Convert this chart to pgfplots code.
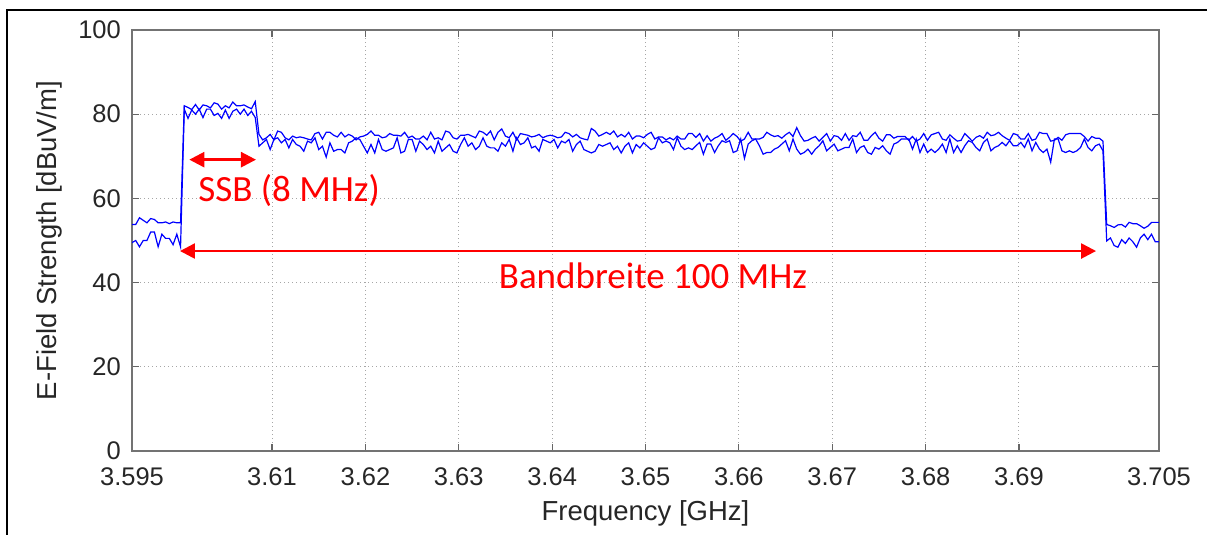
\documentclass[border=0pt]{standalone}
\usepackage{fontspec}
\setmainfont{Liberation Sans}
\newfontfamily\annofont{Carlito}
\usepackage{pgfplots}
\pgfplotsset{compat=1.18}
\usepackage{pgfplotstable}
\usetikzlibrary{arrows.meta}

\definecolor{trace}{RGB}{0,0,255}
\definecolor{anno}{RGB}{255,0,0}
\definecolor{axisgray}{RGB}{115,115,115}
\definecolor{labelgray}{RGB}{38,38,38}

% Spectrum: max-hold trace and clear/write trace (dBuV/m) over frequency (GHz)
\pgfplotstableread{
f maxhold clrwrite
3.5950 53.8 49.5
3.5954 53.8 50.0
3.5958 55.4 48.5
3.5962 54.8 50.0
3.5966 54.2 50.0
3.5970 55.2 52.0
3.5974 55.0 52.0
3.5978 54.2 48.5
3.5982 54.2 51.5
3.5986 54.4 50.5
3.5990 54.0 50.5
3.5994 54.4 49.0
3.5998 54.2 51.5
3.6002 54.2 48.5
3.6006 82.0 81.2
3.6010 81.6 79.0
3.6014 81.1 81.0
3.6018 82.3 80.0
3.6022 81.0 81.2
3.6026 82.2 79.2
3.6030 82.0 81.2
3.6034 81.5 81.2
3.6038 82.7 79.7
3.6042 82.4 80.2
3.6046 81.2 79.0
3.6050 82.0 81.0
3.6054 81.5 79.0
3.6058 82.9 80.7
3.6062 82.0 81.2
3.6066 82.0 80.0
3.6070 82.2 81.2
3.6074 81.7 79.7
3.6078 81.3 80.7
3.6082 83.0 79.2
3.6086 75.2 72.4
3.6090 73.9 73.2
3.6094 74.4 74.0
3.6098 75.2 71.6
3.6102 73.9 74.0
3.6106 76.0 74.4
3.6110 75.7 73.2
3.6114 74.4 74.0
3.6118 73.9 72.0
3.6122 74.8 74.0
3.6126 74.4 72.8
3.6130 74.6 72.4
3.6134 74.4 71.2
3.6138 74.1 73.6
3.6142 73.9 73.2
3.6146 75.4 74.4
3.6150 75.7 71.6
3.6154 74.1 72.4
3.6158 75.7 69.8
3.6162 75.7 73.2
3.6166 75.0 71.2
3.6170 74.6 71.6
3.6174 75.7 71.6
3.6178 74.6 70.8
3.6182 75.2 73.2
3.6186 74.8 73.6
3.6190 73.9 74.4
3.6194 74.6 74.0
3.6198 74.8 72.4
3.6202 75.2 70.8
3.6206 76.0 72.8
3.6210 75.0 70.8
3.6214 75.0 74.0
3.6218 74.4 71.6
3.6222 74.6 71.2
3.6226 75.4 71.6
3.6230 75.0 72.0
3.6234 75.0 74.4
3.6238 74.8 70.8
3.6242 75.7 71.2
3.6246 74.4 74.0
3.6250 74.8 74.0
3.6254 74.1 71.2
3.6258 74.1 73.6
3.6262 74.8 72.8
3.6266 73.9 71.6
3.6270 75.7 72.4
3.6274 74.1 70.8
3.6278 74.4 73.6
3.6282 73.9 71.2
3.6286 76.0 72.0
3.6290 75.7 72.8
3.6294 74.4 71.2
3.6298 74.1 70.8
3.6302 75.0 72.8
3.6306 75.0 74.4
3.6310 75.2 72.4
3.6314 74.8 73.2
3.6318 74.4 71.6
3.6322 76.0 72.4
3.6326 75.7 74.4
3.6330 75.0 72.4
3.6334 76.0 72.0
3.6338 73.9 72.0
3.6342 75.7 71.2
3.6346 76.5 73.2
3.6350 74.8 72.4
3.6354 74.4 74.0
3.6358 75.7 71.2
3.6362 73.9 74.4
3.6366 75.4 72.8
3.6370 75.2 73.2
3.6374 75.0 74.4
3.6378 74.6 72.0
3.6382 74.8 72.4
3.6386 75.2 71.2
3.6390 74.4 74.0
3.6394 74.8 73.6
3.6398 75.0 73.2
3.6402 74.8 74.0
3.6406 74.4 72.0
3.6410 74.6 73.6
3.6414 75.7 73.2
3.6418 75.4 74.0
3.6422 74.6 71.2
3.6426 75.2 72.8
3.6430 74.4 73.6
3.6434 74.1 71.6
3.6438 73.9 71.2
3.6442 76.6 70.8
3.6446 76.0 71.2
3.6450 74.8 72.8
3.6454 75.2 72.4
3.6458 75.7 72.8
3.6462 75.2 73.2
3.6466 76.0 71.6
3.6470 74.6 72.4
3.6474 75.2 70.8
3.6478 74.6 72.4
3.6482 75.7 73.2
3.6486 74.1 70.8
3.6490 74.8 72.8
3.6494 74.8 72.0
3.6498 74.4 73.2
3.6502 75.2 72.4
3.6506 75.7 71.6
3.6510 74.1 72.0
3.6514 74.6 74.4
3.6518 74.6 73.2
3.6522 73.9 73.6
3.6526 74.4 73.2
3.6530 73.9 71.6
3.6534 74.8 74.4
3.6538 74.1 72.4
3.6542 74.1 71.6
3.6546 75.4 72.0
3.6550 75.4 71.6
3.6554 74.5 72.5
3.6558 75.4 73.3
3.6562 73.6 70.5
3.6566 74.9 72.9
3.6570 73.6 72.9
3.6574 74.3 70.9
3.6578 74.7 72.5
3.6582 75.4 73.7
3.6586 73.8 73.3
3.6590 74.5 73.7
3.6594 75.4 70.9
3.6598 74.7 71.3
3.6602 73.6 74.1
3.6606 74.1 69.5
3.6610 75.7 72.9
3.6614 74.1 73.7
3.6618 74.1 74.1
3.6622 74.1 72.5
3.6626 74.5 70.5
3.6630 75.7 70.9
3.6634 75.1 70.9
3.6638 74.7 71.7
3.6642 74.9 72.1
3.6646 74.3 72.9
3.6650 75.1 73.7
3.6654 75.7 71.3
3.6658 74.7 74.1
3.6662 76.8 71.7
3.6666 74.9 70.5
3.6670 73.6 70.9
3.6674 73.8 71.7
3.6678 74.3 70.5
3.6682 74.7 71.7
3.6686 73.6 72.5
3.6690 74.5 73.7
3.6694 75.4 71.3
3.6698 73.6 72.1
3.6702 74.9 72.9
3.6706 74.7 71.3
3.6710 73.8 71.7
3.6714 75.4 72.1
3.6718 73.8 72.1
3.6722 74.9 74.1
3.6726 74.7 70.9
3.6730 75.7 72.1
3.6734 73.8 72.5
3.6738 73.8 70.9
3.6742 74.9 70.5
3.6746 75.7 72.1
3.6750 74.3 71.7
3.6754 73.6 72.5
3.6758 75.1 71.3
3.6762 75.1 70.5
3.6766 74.3 72.9
3.6770 74.7 73.3
3.6774 74.7 74.1
3.6778 74.7 74.1
3.6782 73.8 74.1
3.6786 74.7 71.7
3.6790 73.6 74.1
3.6794 74.1 70.9
3.6798 75.4 72.9
3.6802 73.8 70.9
3.6806 75.1 71.7
3.6810 75.4 70.9
3.6814 75.7 71.7
3.6818 74.1 72.9
3.6822 73.8 70.9
3.6826 75.1 74.1
3.6830 74.3 70.9
3.6834 73.6 72.5
3.6838 73.8 70.9
3.6842 75.4 72.5
3.6846 74.5 73.7
3.6850 73.6 73.3
3.6854 74.5 72.1
3.6858 74.9 71.3
3.6862 74.3 73.3
3.6866 75.7 74.1
3.6870 74.9 71.3
3.6874 75.1 72.1
3.6878 75.7 72.5
3.6882 74.9 73.3
3.6886 74.3 72.5
3.6890 73.8 73.7
3.6894 75.4 72.5
3.6898 75.1 72.5
3.6902 74.1 73.3
3.6906 74.1 72.1
3.6910 75.4 74.1
3.6914 73.8 71.3
3.6918 74.1 73.3
3.6922 75.7 71.7
3.6926 75.4 70.9
3.6930 75.4 71.7
3.6934 73.6 68.6
3.6938 73.8 74.1
3.6942 74.5 74.1
3.6946 73.8 71.3
3.6950 75.1 70.9
3.6954 75.4 71.3
3.6958 75.4 70.9
3.6962 75.4 71.3
3.6966 75.4 72.1
3.6970 74.7 74.1
3.6974 73.6 72.1
3.6978 74.7 71.3
3.6982 74.3 72.5
3.6986 74.3 72.9
3.6990 73.6 71.3
3.6994 53.8 49.9
3.6998 53.5 50.6
3.7002 53.1 48.8
3.7006 53.7 48.4
3.7010 53.8 50.2
3.7014 53.2 49.3
3.7018 54.3 50.6
3.7022 54.0 49.7
3.7026 54.0 48.4
3.7030 53.5 50.6
3.7034 52.9 51.5
3.7038 53.4 50.2
3.7042 54.3 51.5
3.7046 54.3 49.7
3.7050 54.3 49.7
}\spectrum

\begin{document}
\begin{tikzpicture}
\useasboundingbox (0,0) rectangle (1207pt,535pt);
\draw[line width=2.5pt, black] (7pt,0pt) -- (7pt,525pt) -- (1207pt,525pt);
\begin{axis}[
  at={(132pt,84pt)}, anchor=south west,
  width=1027pt, height=421pt, scale only axis,
  xmin=3.595, xmax=3.705, ymin=0, ymax=100,
  xtick={3.595,3.61,3.62,3.63,3.64,3.65,3.66,3.67,3.68,3.69,3.705},
  xticklabels={3.595,3.61,3.62,3.63,3.64,3.65,3.66,3.67,3.68,3.69,3.705},
  ytick={0,20,40,60,80,100},
  /pgf/number format/assume math mode=true,
  grid=major,
  grid style={line width=1pt, black!35, dash pattern=on 1.3pt off 2.7pt},
  axis line style={axisgray, line width=1.6pt},
  tick align=inside,
  major tick length=7pt,
  tick style={black!60, line width=1.2pt},
  xticklabel style={font=\fontsize{25.5}{30}\selectfont, text=labelgray, inner sep=0pt, anchor=north, yshift=-16pt},
  yticklabel style={font=\fontsize{25.5}{30}\selectfont, text=labelgray, inner sep=0pt, anchor=east, xshift=-11pt},
  xlabel={Frequency [GHz]},
  ylabel={E-Field Strength [dBuV/m]},
  xlabel style={font=\fontsize{27.5}{33}\selectfont, text=labelgray, inner sep=0pt, at={(axis description cs:0.5,-0.1473)}, anchor=center},
  ylabel style={font=\fontsize{27.5}{33}\selectfont, text=labelgray, inner sep=0pt, at={(axis description cs:-0.0808,0.5)}, anchor=center},
]
\addplot[trace, line width=1.2pt, mark=none] table[x=f, y=maxhold] {\spectrum};
\addplot[trace, line width=1.2pt, mark=none] table[x=f, y=clrwrite] {\spectrum};

% bandwidth annotations
\draw[anno, line width=2.5pt, {Triangle[length=15pt,width=15pt]}-{Triangle[length=15pt,width=15pt]}]
  (axis cs:3.60114,69.2) -- (axis cs:3.60828,69.2);
\node[anno, anchor=base west, inner sep=0pt, font={\annofont\fontsize{37}{44}\selectfont}]
  at (axis cs:3.6021,59.3) {SSB (8 MHz)};
\draw[anno, line width=2.5pt, {Triangle[length=15pt,width=15pt]}-{Triangle[length=15pt,width=15pt]}]
  (axis cs:3.60014,47.5) -- (axis cs:3.69826,47.5);
\node[anno, anchor=base, inner sep=0pt, font={\annofont\fontsize{37}{44}\selectfont}]
  at (axis cs:3.6508,38.65) {Bandbreite 100 MHz};
\end{axis}
\end{tikzpicture}
\end{document}
